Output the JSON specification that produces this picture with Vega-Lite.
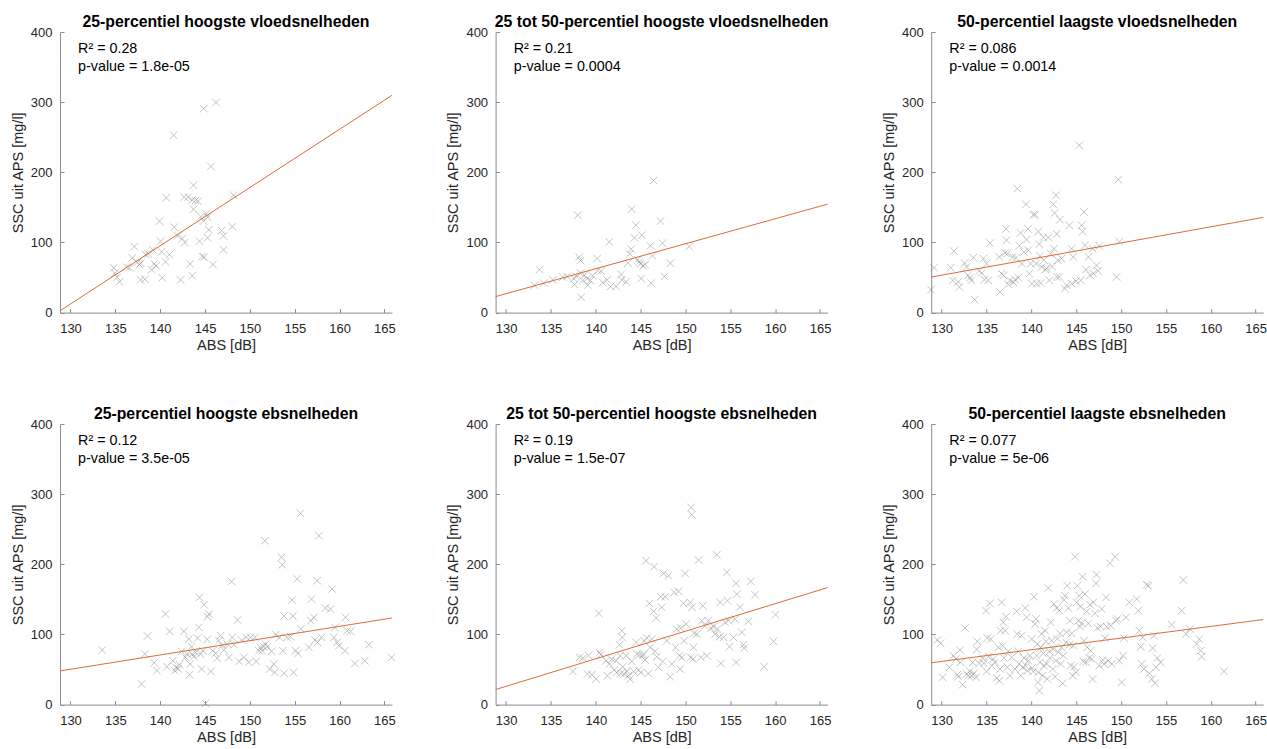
{
"$schema": "https://vega.github.io/schema/vega-lite/v6.json",
"padding": {"left": 10, "top": 13, "right": 0, "bottom": 0},
"background": "white",
"columns": 3,
"spacing": {"row": 111, "column": 103.6},
"bounds": "flush",
"datasets": {
"pts": [
{"panel":1,"abs":134.83,"ssc":63.8},{"panel":1,"abs":134.94,"ssc":56.2},{"panel":1,"abs":135.2,"ssc":50.5},{"panel":1,"abs":135.46,"ssc":43.9},{"panel":1,"abs":136.25,"ssc":64.8},{"panel":1,"abs":136.58,"ssc":63.8},{"panel":1,"abs":136.88,"ssc":78.1},{"panel":1,"abs":137.1,"ssc":94.2},{"panel":1,"abs":137.43,"ssc":71.4},{"panel":1,"abs":137.69,"ssc":68.6},{"panel":1,"abs":137.84,"ssc":70.4},{"panel":1,"abs":137.81,"ssc":46.7},{"panel":1,"abs":138.29,"ssc":47.6},{"panel":1,"abs":138.36,"ssc":82.8},{"panel":1,"abs":138.66,"ssc":83.7},{"panel":1,"abs":139.03,"ssc":61.0},{"panel":1,"abs":139.18,"ssc":89.5},{"panel":1,"abs":139.33,"ssc":69.5},{"panel":1,"abs":139.55,"ssc":66.6},{"panel":1,"abs":139.92,"ssc":130.3},{"panel":1,"abs":140.04,"ssc":101.8},{"panel":1,"abs":140.15,"ssc":86.6},{"panel":1,"abs":140.22,"ssc":49.5},{"panel":1,"abs":140.59,"ssc":72.3},{"panel":1,"abs":140.67,"ssc":163.6},{"panel":1,"abs":141.04,"ssc":82.8},{"panel":1,"abs":141.56,"ssc":121.8},{"panel":1,"abs":141.93,"ssc":109.4},{"panel":1,"abs":142.27,"ssc":46.7},{"panel":1,"abs":142.45,"ssc":105.6},{"panel":1,"abs":142.67,"ssc":164.6},{"panel":1,"abs":142.75,"ssc":99.9},{"panel":1,"abs":143.12,"ssc":164.6},{"panel":1,"abs":143.34,"ssc":69.5},{"panel":1,"abs":143.57,"ssc":52.8},{"panel":1,"abs":143.71,"ssc":181.6},{"panel":1,"abs":143.57,"ssc":160.7},{"panel":1,"abs":143.71,"ssc":147.4},{"panel":1,"abs":143.94,"ssc":159.8},{"panel":1,"abs":144.23,"ssc":158.8},{"panel":1,"abs":144.38,"ssc":101.8},{"panel":1,"abs":144.53,"ssc":137.0},{"panel":1,"abs":144.68,"ssc":80.0},{"panel":1,"abs":144.83,"ssc":130.3},{"panel":1,"abs":144.9,"ssc":79.0},{"panel":1,"abs":145.13,"ssc":140.8},{"panel":1,"abs":145.28,"ssc":136.0},{"panel":1,"abs":145.28,"ssc":106.6},{"panel":1,"abs":145.42,"ssc":118.0},{"panel":1,"abs":145.65,"ssc":208.3},{"panel":1,"abs":145.87,"ssc":68.6},{"panel":1,"abs":146.84,"ssc":117.0},{"panel":1,"abs":147.06,"ssc":109.4},{"panel":1,"abs":147.06,"ssc":89.5},{"panel":1,"abs":148.03,"ssc":122.7},{"panel":1,"abs":148.17,"ssc":167.4},{"panel":1,"abs":141.5,"ssc":252.7},{"panel":1,"abs":144.85,"ssc":290.8},{"panel":1,"abs":146.22,"ssc":299.4},
{"panel":2,"abs":133.16,"ssc":39.1},{"panel":2,"abs":133.72,"ssc":61.0},{"panel":2,"abs":134.2,"ssc":42.0},{"panel":2,"abs":135.2,"ssc":46.7},{"panel":2,"abs":136.32,"ssc":50.5},{"panel":2,"abs":136.8,"ssc":51.5},{"panel":2,"abs":137.55,"ssc":48.6},{"panel":2,"abs":137.62,"ssc":40.1},{"panel":2,"abs":137.81,"ssc":51.5},{"panel":2,"abs":137.99,"ssc":138.9},{"panel":2,"abs":138.14,"ssc":79.0},{"panel":2,"abs":138.29,"ssc":74.3},{"panel":2,"abs":138.29,"ssc":56.2},{"panel":2,"abs":138.36,"ssc":22.0},{"panel":2,"abs":138.55,"ssc":45.8},{"panel":2,"abs":138.73,"ssc":53.4},{"panel":2,"abs":139.03,"ssc":48.6},{"panel":2,"abs":139.11,"ssc":39.1},{"panel":2,"abs":139.4,"ssc":45.8},{"panel":2,"abs":139.66,"ssc":52.4},{"panel":2,"abs":140.15,"ssc":77.1},{"panel":2,"abs":140.22,"ssc":60.0},{"panel":2,"abs":140.59,"ssc":59.1},{"panel":2,"abs":140.78,"ssc":42.9},{"panel":2,"abs":141.26,"ssc":46.7},{"panel":2,"abs":141.49,"ssc":100.9},{"panel":2,"abs":141.63,"ssc":37.2},{"panel":2,"abs":142.27,"ssc":37.2},{"panel":2,"abs":142.82,"ssc":54.3},{"panel":2,"abs":142.9,"ssc":46.7},{"panel":2,"abs":143.38,"ssc":43.9},{"panel":2,"abs":143.57,"ssc":70.5},{"panel":2,"abs":143.79,"ssc":83.8},{"panel":2,"abs":143.94,"ssc":90.4},{"panel":2,"abs":144.01,"ssc":147.5},{"panel":2,"abs":144.31,"ssc":106.6},{"panel":2,"abs":144.46,"ssc":124.6},{"panel":2,"abs":144.68,"ssc":75.2},{"panel":2,"abs":144.83,"ssc":72.4},{"panel":2,"abs":144.98,"ssc":69.5},{"panel":2,"abs":145.05,"ssc":48.6},{"panel":2,"abs":145.13,"ssc":110.4},{"panel":2,"abs":145.28,"ssc":66.7},{"panel":2,"abs":145.5,"ssc":68.6},{"panel":2,"abs":146.09,"ssc":95.2},{"panel":2,"abs":146.17,"ssc":42.0},{"panel":2,"abs":146.32,"ssc":80.9},{"panel":2,"abs":146.43,"ssc":188.3},{"panel":2,"abs":147.21,"ssc":130.3},{"panel":2,"abs":147.43,"ssc":99.0},{"panel":2,"abs":147.65,"ssc":51.5},{"panel":2,"abs":148.32,"ssc":70.5},{"panel":2,"abs":150.4,"ssc":94.2},
{"panel":3,"abs":128.81,"ssc":32.7},{"panel":3,"abs":129.14,"ssc":64.1},{"panel":3,"abs":131.0,"ssc":64.1},{"panel":3,"abs":131.22,"ssc":46.0},{"panel":3,"abs":131.37,"ssc":87.8},{"panel":3,"abs":131.85,"ssc":43.7},{"panel":3,"abs":131.97,"ssc":36.5},{"panel":3,"abs":132.56,"ssc":70.7},{"panel":3,"abs":132.78,"ssc":65.0},{"panel":3,"abs":132.93,"ssc":53.1},{"panel":3,"abs":133.15,"ssc":49.8},{"panel":3,"abs":133.3,"ssc":46.0},{"panel":3,"abs":133.53,"ssc":78.3},{"panel":3,"abs":133.67,"ssc":18.5},{"panel":3,"abs":134.19,"ssc":59.3},{"panel":3,"abs":134.45,"ssc":56.5},{"panel":3,"abs":134.64,"ssc":76.9},{"panel":3,"abs":134.75,"ssc":47.0},{"panel":3,"abs":135.01,"ssc":69.8},{"panel":3,"abs":135.2,"ssc":46.0},{"panel":3,"abs":135.38,"ssc":99.3},{"panel":3,"abs":136.42,"ssc":79.3},{"panel":3,"abs":136.5,"ssc":29.4},{"panel":3,"abs":136.68,"ssc":55.5},{"panel":3,"abs":136.87,"ssc":53.1},{"panel":3,"abs":137.06,"ssc":85.0},{"panel":3,"abs":137.17,"ssc":119.2},{"panel":3,"abs":137.24,"ssc":103.1},{"panel":3,"abs":137.32,"ssc":84.1},{"panel":3,"abs":137.43,"ssc":40.3},{"panel":3,"abs":137.61,"ssc":46.0},{"panel":3,"abs":137.91,"ssc":79.3},{"panel":3,"abs":137.99,"ssc":43.2},{"panel":3,"abs":138.17,"ssc":47.0},{"panel":3,"abs":138.28,"ssc":78.3},{"panel":3,"abs":138.43,"ssc":176.7},{"panel":3,"abs":138.54,"ssc":49.8},{"panel":3,"abs":138.65,"ssc":95.5},{"panel":3,"abs":138.8,"ssc":113.5},{"panel":3,"abs":138.95,"ssc":69.8},{"panel":3,"abs":139.17,"ssc":86.4},{"panel":3,"abs":139.4,"ssc":154.4},{"panel":3,"abs":139.47,"ssc":104.0},{"panel":3,"abs":139.62,"ssc":119.2},{"panel":3,"abs":139.66,"ssc":88.8},{"panel":3,"abs":139.77,"ssc":55.5},{"panel":3,"abs":139.92,"ssc":69.8},{"panel":3,"abs":140.07,"ssc":41.3},{"panel":3,"abs":140.21,"ssc":139.6},{"panel":3,"abs":140.4,"ssc":139.6},{"panel":3,"abs":140.51,"ssc":69.8},{"panel":3,"abs":140.59,"ssc":41.3},{"panel":3,"abs":140.77,"ssc":115.5},{"panel":3,"abs":140.88,"ssc":97.6},{"panel":3,"abs":140.96,"ssc":80.3},{"panel":3,"abs":141.03,"ssc":42.2},{"panel":3,"abs":141.14,"ssc":65.0},{"panel":3,"abs":141.33,"ssc":107.1},{"panel":3,"abs":141.4,"ssc":74.6},{"panel":3,"abs":141.55,"ssc":61.3},{"panel":3,"abs":141.7,"ssc":62.7},{"panel":3,"abs":141.89,"ssc":107.1},{"panel":3,"abs":142.0,"ssc":46.0},{"panel":3,"abs":142.15,"ssc":84.1},{"panel":3,"abs":142.3,"ssc":65.9},{"panel":3,"abs":142.44,"ssc":154.4},{"panel":3,"abs":142.52,"ssc":91.2},{"panel":3,"abs":142.59,"ssc":142.0},{"panel":3,"abs":142.74,"ssc":167.2},{"panel":3,"abs":142.82,"ssc":112.2},{"panel":3,"abs":142.82,"ssc":50.8},{"panel":3,"abs":142.96,"ssc":74.6},{"panel":3,"abs":143.11,"ssc":50.8},{"panel":3,"abs":143.19,"ssc":132.5},{"panel":3,"abs":143.37,"ssc":76.9},{"panel":3,"abs":143.74,"ssc":34.2},{"panel":3,"abs":143.93,"ssc":39.0},{"panel":3,"abs":144.23,"ssc":124.4},{"panel":3,"abs":144.49,"ssc":91.2},{"panel":3,"abs":144.49,"ssc":41.3},{"panel":3,"abs":144.67,"ssc":79.3},{"panel":3,"abs":144.97,"ssc":45.1},{"panel":3,"abs":145.34,"ssc":238.5},{"panel":3,"abs":145.49,"ssc":46.0},{"panel":3,"abs":145.6,"ssc":124.4},{"panel":3,"abs":145.71,"ssc":115.5},{"panel":3,"abs":145.86,"ssc":143.4},{"panel":3,"abs":145.97,"ssc":95.9},{"panel":3,"abs":146.09,"ssc":61.3},{"panel":3,"abs":146.35,"ssc":79.3},{"panel":3,"abs":146.53,"ssc":53.1},{"panel":3,"abs":146.83,"ssc":91.2},{"panel":3,"abs":146.9,"ssc":55.5},{"panel":3,"abs":147.27,"ssc":67.4},{"panel":3,"abs":147.42,"ssc":59.3},{"panel":3,"abs":147.57,"ssc":95.0},{"panel":3,"abs":149.5,"ssc":50.8},{"panel":3,"abs":149.69,"ssc":189.6},{"panel":3,"abs":149.8,"ssc":101.2},
{"panel":4,"abs":133.53,"ssc":77.8},{"panel":4,"abs":137.92,"ssc":29.3},{"panel":4,"abs":138.29,"ssc":72.1},{"panel":4,"abs":138.59,"ssc":97.7},{"panel":4,"abs":139.33,"ssc":59.7},{"panel":4,"abs":139.63,"ssc":48.3},{"panel":4,"abs":140.59,"ssc":129.1},{"panel":4,"abs":140.74,"ssc":54.0},{"panel":4,"abs":141.04,"ssc":104.4},{"panel":4,"abs":141.41,"ssc":62.5},{"panel":4,"abs":141.63,"ssc":48.3},{"panel":4,"abs":141.78,"ssc":53.0},{"panel":4,"abs":142.0,"ssc":51.1},{"panel":4,"abs":142.15,"ssc":56.8},{"panel":4,"abs":142.38,"ssc":75.9},{"panel":4,"abs":142.64,"ssc":104.4},{"panel":4,"abs":142.82,"ssc":67.3},{"panel":4,"abs":143.01,"ssc":72.1},{"panel":4,"abs":143.19,"ssc":93.4},{"panel":4,"abs":143.27,"ssc":42.6},{"panel":4,"abs":143.34,"ssc":57.8},{"panel":4,"abs":143.49,"ssc":82.5},{"panel":4,"abs":143.57,"ssc":72.1},{"panel":4,"abs":143.75,"ssc":68.3},{"panel":4,"abs":143.94,"ssc":74.4},{"panel":4,"abs":144.16,"ssc":94.9},{"panel":4,"abs":144.31,"ssc":110.1},{"panel":4,"abs":144.38,"ssc":152.8},{"panel":4,"abs":144.49,"ssc":72.1},{"panel":4,"abs":144.61,"ssc":50.7},{"panel":4,"abs":144.76,"ssc":76.8},{"panel":4,"abs":144.9,"ssc":142.4},{"panel":4,"abs":145.05,"ssc":1.7},{"panel":4,"abs":145.24,"ssc":93.0},{"panel":4,"abs":145.28,"ssc":125.3},{"panel":4,"abs":145.42,"ssc":129.1},{"panel":4,"abs":145.65,"ssc":47.4},{"panel":4,"abs":145.87,"ssc":76.8},{"panel":4,"abs":146.17,"ssc":73.0},{"panel":4,"abs":146.35,"ssc":66.3},{"panel":4,"abs":146.54,"ssc":91.1},{"panel":4,"abs":146.72,"ssc":98.2},{"panel":4,"abs":146.91,"ssc":84.4},{"panel":4,"abs":147.1,"ssc":77.8},{"panel":4,"abs":147.47,"ssc":86.3},{"panel":4,"abs":147.65,"ssc":67.3},{"panel":4,"abs":147.95,"ssc":175.6},{"panel":4,"abs":148.03,"ssc":95.8},{"panel":4,"abs":148.25,"ssc":85.4},{"panel":4,"abs":148.62,"ssc":120.5},{"panel":4,"abs":148.77,"ssc":61.6},{"panel":4,"abs":149.07,"ssc":92.0},{"panel":4,"abs":149.33,"ssc":67.3},{"panel":4,"abs":149.59,"ssc":95.8},{"panel":4,"abs":149.88,"ssc":60.2},{"panel":4,"abs":150.07,"ssc":95.8},{"panel":4,"abs":150.55,"ssc":95.8},{"panel":4,"abs":150.7,"ssc":61.6},{"panel":4,"abs":151.0,"ssc":76.8},{"panel":4,"abs":151.18,"ssc":81.6},{"panel":4,"abs":151.37,"ssc":76.8},{"panel":4,"abs":151.52,"ssc":82.5},{"panel":4,"abs":151.67,"ssc":233.6},{"panel":4,"abs":151.74,"ssc":86.3},{"panel":4,"abs":151.96,"ssc":82.5},{"panel":4,"abs":152.19,"ssc":50.7},{"panel":4,"abs":152.41,"ssc":75.9},{"panel":4,"abs":152.67,"ssc":57.8},{"panel":4,"abs":152.78,"ssc":45.9},{"panel":4,"abs":152.86,"ssc":99.6},{"panel":4,"abs":153.3,"ssc":95.8},{"panel":4,"abs":153.52,"ssc":209.9},{"panel":4,"abs":153.6,"ssc":199.4},{"panel":4,"abs":153.67,"ssc":76.8},{"panel":4,"abs":153.79,"ssc":126.2},{"panel":4,"abs":153.82,"ssc":44.5},{"panel":4,"abs":154.16,"ssc":95.8},{"panel":4,"abs":154.53,"ssc":96.8},{"panel":4,"abs":154.71,"ssc":149.0},{"panel":4,"abs":154.79,"ssc":126.2},{"panel":4,"abs":154.86,"ssc":45.9},{"panel":4,"abs":155.09,"ssc":76.8},{"panel":4,"abs":155.27,"ssc":179.0},{"panel":4,"abs":155.38,"ssc":73.0},{"panel":4,"abs":155.64,"ssc":272.6},{"panel":4,"abs":155.68,"ssc":107.7},{"panel":4,"abs":156.57,"ssc":81.6},{"panel":4,"abs":156.8,"ssc":119.6},{"panel":4,"abs":156.87,"ssc":150.5},{"panel":4,"abs":157.13,"ssc":124.3},{"panel":4,"abs":157.24,"ssc":92.0},{"panel":4,"abs":157.5,"ssc":176.6},{"panel":4,"abs":157.54,"ssc":88.7},{"panel":4,"abs":157.69,"ssc":240.7},{"panel":4,"abs":157.98,"ssc":95.8},{"panel":4,"abs":158.43,"ssc":137.6},{"panel":4,"abs":158.99,"ssc":136.2},{"panel":4,"abs":159.17,"ssc":164.7},{"panel":4,"abs":159.36,"ssc":95.8},{"panel":4,"abs":159.47,"ssc":110.1},{"panel":4,"abs":159.73,"ssc":88.7},{"panel":4,"abs":159.92,"ssc":83.9},{"panel":4,"abs":160.59,"ssc":76.8},{"panel":4,"abs":160.66,"ssc":124.3},{"panel":4,"abs":160.85,"ssc":105.3},{"panel":4,"abs":161.22,"ssc":104.4},{"panel":4,"abs":161.7,"ssc":58.7},{"panel":4,"abs":162.8,"ssc":62.5},{"panel":4,"abs":163.26,"ssc":85.4},{"panel":4,"abs":165.79,"ssc":67.3},
{"panel":5,"abs":137.44,"ssc":47.3},{"panel":5,"abs":138.18,"ssc":67.3},{"panel":5,"abs":138.55,"ssc":66.3},{"panel":5,"abs":139.07,"ssc":43.5},{"panel":5,"abs":139.18,"ssc":70.1},{"panel":5,"abs":139.55,"ssc":42.6},{"panel":5,"abs":140.04,"ssc":36.4},{"panel":5,"abs":140.33,"ssc":130.0},{"panel":5,"abs":140.41,"ssc":74.4},{"panel":5,"abs":140.56,"ssc":71.1},{"panel":5,"abs":141.15,"ssc":62.5},{"panel":5,"abs":141.3,"ssc":41.1},{"panel":5,"abs":141.52,"ssc":57.8},{"panel":5,"abs":141.78,"ssc":64.9},{"panel":5,"abs":142.04,"ssc":49.2},{"panel":5,"abs":142.27,"ssc":62.5},{"panel":5,"abs":142.34,"ssc":45.9},{"panel":5,"abs":142.64,"ssc":85.3},{"panel":5,"abs":142.71,"ssc":69.7},{"panel":5,"abs":142.79,"ssc":44.5},{"panel":5,"abs":142.9,"ssc":105.3},{"panel":5,"abs":142.94,"ssc":95.8},{"panel":5,"abs":143.01,"ssc":54.0},{"panel":5,"abs":143.16,"ssc":43.5},{"panel":5,"abs":143.38,"ssc":69.7},{"panel":5,"abs":143.46,"ssc":47.3},{"panel":5,"abs":143.64,"ssc":41.1},{"panel":5,"abs":143.83,"ssc":36.4},{"panel":5,"abs":144.01,"ssc":61.6},{"panel":5,"abs":144.2,"ssc":47.3},{"panel":5,"abs":144.5,"ssc":88.7},{"panel":5,"abs":144.57,"ssc":72.0},{"panel":5,"abs":144.76,"ssc":49.2},{"panel":5,"abs":144.87,"ssc":71.1},{"panel":5,"abs":145.02,"ssc":45.9},{"panel":5,"abs":145.24,"ssc":69.7},{"panel":5,"abs":145.32,"ssc":72.0},{"panel":5,"abs":145.39,"ssc":91.0},{"panel":5,"abs":145.5,"ssc":63.5},{"panel":5,"abs":145.61,"ssc":205.1},{"panel":5,"abs":145.69,"ssc":94.8},{"panel":5,"abs":145.87,"ssc":44.5},{"panel":5,"abs":145.98,"ssc":144.3},{"panel":5,"abs":146.06,"ssc":81.5},{"panel":5,"abs":146.24,"ssc":93.4},{"panel":5,"abs":146.43,"ssc":132.9},{"panel":5,"abs":146.5,"ssc":196.5},{"panel":5,"abs":146.61,"ssc":75.8},{"panel":5,"abs":146.73,"ssc":123.4},{"panel":5,"abs":146.8,"ssc":68.2},{"panel":5,"abs":146.99,"ssc":53.0},{"panel":5,"abs":147.25,"ssc":153.8},{"panel":5,"abs":147.36,"ssc":138.6},{"panel":5,"abs":147.47,"ssc":61.6},{"panel":5,"abs":147.54,"ssc":187.0},{"panel":5,"abs":147.73,"ssc":153.8},{"panel":5,"abs":147.92,"ssc":91.0},{"panel":5,"abs":148.1,"ssc":183.7},{"panel":5,"abs":148.29,"ssc":39.7},{"panel":5,"abs":148.47,"ssc":57.8},{"panel":5,"abs":148.73,"ssc":160.0},{"panel":5,"abs":148.88,"ssc":81.5},{"panel":5,"abs":149.03,"ssc":107.7},{"panel":5,"abs":149.22,"ssc":161.4},{"panel":5,"abs":149.33,"ssc":69.7},{"panel":5,"abs":149.4,"ssc":50.6},{"panel":5,"abs":149.47,"ssc":109.1},{"panel":5,"abs":149.59,"ssc":67.3},{"panel":5,"abs":149.77,"ssc":144.3},{"panel":5,"abs":149.85,"ssc":91.0},{"panel":5,"abs":149.96,"ssc":187.0},{"panel":5,"abs":150.07,"ssc":114.8},{"panel":5,"abs":150.52,"ssc":145.7},{"panel":5,"abs":150.59,"ssc":67.3},{"panel":5,"abs":150.7,"ssc":138.6},{"panel":5,"abs":150.81,"ssc":64.9},{"panel":5,"abs":150.89,"ssc":81.5},{"panel":5,"abs":150.96,"ssc":101.5},{"panel":5,"abs":151.26,"ssc":100.5},{"panel":5,"abs":151.45,"ssc":206.0},{"panel":5,"abs":151.71,"ssc":67.3},{"panel":5,"abs":151.82,"ssc":119.6},{"panel":5,"abs":151.93,"ssc":140.9},{"panel":5,"abs":152.19,"ssc":112.4},{"panel":5,"abs":152.37,"ssc":69.7},{"panel":5,"abs":152.56,"ssc":119.6},{"panel":5,"abs":152.82,"ssc":109.1},{"panel":5,"abs":153.12,"ssc":111.0},{"panel":5,"abs":153.3,"ssc":100.5},{"panel":5,"abs":153.49,"ssc":213.6},{"panel":5,"abs":153.56,"ssc":107.7},{"panel":5,"abs":153.79,"ssc":96.7},{"panel":5,"abs":153.86,"ssc":145.7},{"panel":5,"abs":153.94,"ssc":58.7},{"panel":5,"abs":154.23,"ssc":95.8},{"panel":5,"abs":154.42,"ssc":117.2},{"panel":5,"abs":154.6,"ssc":188.5},{"panel":5,"abs":154.68,"ssc":148.1},{"panel":5,"abs":154.79,"ssc":119.6},{"panel":5,"abs":154.9,"ssc":82.5},{"panel":5,"abs":155.35,"ssc":95.8},{"panel":5,"abs":155.53,"ssc":121.9},{"panel":5,"abs":155.64,"ssc":172.8},{"panel":5,"abs":155.72,"ssc":157.6},{"panel":5,"abs":155.64,"ssc":60.1},{"panel":5,"abs":156.09,"ssc":138.6},{"panel":5,"abs":156.28,"ssc":102.9},{"panel":5,"abs":156.46,"ssc":85.3},{"panel":5,"abs":156.54,"ssc":80.6},{"panel":5,"abs":157.02,"ssc":118.6},{"panel":5,"abs":157.28,"ssc":175.6},{"panel":5,"abs":157.76,"ssc":156.6},{"panel":5,"abs":158.77,"ssc":54.0},{"panel":5,"abs":159.81,"ssc":90.1},{"panel":5,"abs":160.03,"ssc":128.1},{"panel":5,"abs":150.62,"ssc":281.1},{"panel":5,"abs":150.7,"ssc":270.7},
{"panel":6,"abs":129.51,"ssc":92.1},{"panel":6,"abs":129.88,"ssc":87.3},{"panel":6,"abs":130.11,"ssc":38.8},{"panel":6,"abs":130.85,"ssc":53.1},{"panel":6,"abs":131.3,"ssc":69.7},{"panel":6,"abs":131.59,"ssc":65.0},{"panel":6,"abs":131.74,"ssc":42.6},{"panel":6,"abs":131.85,"ssc":39.8},{"panel":6,"abs":132.04,"ssc":77.8},{"panel":6,"abs":132.11,"ssc":60.2},{"panel":6,"abs":132.34,"ssc":28.4},{"panel":6,"abs":132.6,"ssc":109.2},{"panel":6,"abs":132.78,"ssc":43.6},{"panel":6,"abs":132.97,"ssc":41.2},{"panel":6,"abs":133.15,"ssc":47.4},{"panel":6,"abs":133.34,"ssc":41.2},{"panel":6,"abs":133.45,"ssc":60.2},{"panel":6,"abs":133.6,"ssc":44.5},{"panel":6,"abs":133.82,"ssc":38.8},{"panel":6,"abs":133.9,"ssc":78.7},{"panel":6,"abs":133.97,"ssc":90.1},{"panel":6,"abs":134.19,"ssc":58.8},{"panel":6,"abs":134.57,"ssc":66.4},{"panel":6,"abs":134.71,"ssc":58.8},{"panel":6,"abs":134.94,"ssc":133.9},{"panel":6,"abs":135.01,"ssc":47.4},{"panel":6,"abs":135.09,"ssc":94.9},{"panel":6,"abs":135.23,"ssc":68.3},{"panel":6,"abs":135.38,"ssc":144.3},{"panel":6,"abs":135.46,"ssc":93.5},{"panel":6,"abs":135.57,"ssc":55.5},{"panel":6,"abs":135.76,"ssc":65.0},{"panel":6,"abs":135.94,"ssc":60.2},{"panel":6,"abs":136.13,"ssc":37.9},{"panel":6,"abs":136.31,"ssc":81.6},{"panel":6,"abs":136.43,"ssc":34.1},{"panel":6,"abs":136.5,"ssc":50.7},{"panel":6,"abs":136.57,"ssc":105.4},{"panel":6,"abs":136.68,"ssc":145.8},{"panel":6,"abs":136.8,"ssc":84.0},{"panel":6,"abs":136.87,"ssc":117.2},{"panel":6,"abs":136.94,"ssc":66.4},{"panel":6,"abs":137.06,"ssc":105.4},{"panel":6,"abs":137.17,"ssc":125.3},{"panel":6,"abs":137.32,"ssc":53.1},{"panel":6,"abs":137.43,"ssc":75.9},{"panel":6,"abs":137.61,"ssc":41.2},{"panel":6,"abs":137.8,"ssc":67.3},{"panel":6,"abs":138.17,"ssc":50.7},{"panel":6,"abs":138.36,"ssc":132.9},{"panel":6,"abs":138.43,"ssc":100.6},{"panel":6,"abs":138.54,"ssc":75.9},{"panel":6,"abs":138.65,"ssc":57.9},{"panel":6,"abs":138.8,"ssc":41.2},{"panel":6,"abs":138.91,"ssc":98.2},{"panel":6,"abs":139.03,"ssc":53.1},{"panel":6,"abs":139.17,"ssc":66.4},{"panel":6,"abs":139.32,"ssc":137.7},{"panel":6,"abs":139.4,"ssc":55.5},{"panel":6,"abs":139.47,"ssc":124.4},{"panel":6,"abs":139.55,"ssc":48.3},{"panel":6,"abs":139.66,"ssc":62.6},{"panel":6,"abs":139.84,"ssc":69.7},{"panel":6,"abs":140.03,"ssc":93.5},{"panel":6,"abs":140.07,"ssc":52.1},{"panel":6,"abs":140.21,"ssc":47.4},{"panel":6,"abs":140.29,"ssc":153.8},{"panel":6,"abs":140.4,"ssc":114.9},{"panel":6,"abs":140.51,"ssc":122.0},{"panel":6,"abs":140.59,"ssc":69.7},{"panel":6,"abs":140.66,"ssc":86.3},{"panel":6,"abs":140.74,"ssc":31.7},{"panel":6,"abs":140.77,"ssc":45.9},{"panel":6,"abs":140.88,"ssc":19.8},{"panel":6,"abs":140.96,"ssc":60.2},{"panel":6,"abs":141.03,"ssc":81.6},{"panel":6,"abs":141.14,"ssc":100.6},{"panel":6,"abs":141.25,"ssc":41.2},{"panel":6,"abs":141.33,"ssc":73.0},{"panel":6,"abs":141.4,"ssc":55.5},{"panel":6,"abs":141.52,"ssc":105.4},{"panel":6,"abs":141.63,"ssc":90.1},{"panel":6,"abs":141.7,"ssc":57.9},{"panel":6,"abs":141.77,"ssc":36.4},{"panel":6,"abs":141.89,"ssc":166.2},{"panel":6,"abs":142.0,"ssc":75.9},{"panel":6,"abs":142.07,"ssc":66.4},{"panel":6,"abs":142.15,"ssc":117.2},{"panel":6,"abs":142.26,"ssc":91.1},{"panel":6,"abs":142.37,"ssc":50.7},{"panel":6,"abs":142.44,"ssc":79.2},{"panel":6,"abs":142.52,"ssc":143.4},{"panel":6,"abs":142.63,"ssc":39.8},{"panel":6,"abs":142.74,"ssc":62.6},{"panel":6,"abs":142.82,"ssc":137.7},{"panel":6,"abs":142.89,"ssc":93.5},{"panel":6,"abs":143.0,"ssc":74.5},{"panel":6,"abs":143.11,"ssc":133.9},{"panel":6,"abs":143.19,"ssc":101.5},{"panel":6,"abs":143.26,"ssc":57.9},{"panel":6,"abs":143.37,"ssc":81.6},{"panel":6,"abs":143.48,"ssc":30.3},{"panel":6,"abs":143.56,"ssc":69.7},{"panel":6,"abs":143.63,"ssc":149.1},{"panel":6,"abs":143.74,"ssc":155.2},{"panel":6,"abs":143.86,"ssc":88.7},{"panel":6,"abs":143.93,"ssc":103.0},{"panel":6,"abs":144.0,"ssc":169.5},{"panel":6,"abs":144.12,"ssc":137.7},{"panel":6,"abs":144.23,"ssc":85.4},{"panel":6,"abs":144.3,"ssc":119.6},{"panel":6,"abs":144.38,"ssc":55.5},{"panel":6,"abs":144.49,"ssc":101.5},{"panel":6,"abs":144.6,"ssc":41.2},{"panel":6,"abs":144.67,"ssc":84.0},{"panel":6,"abs":144.75,"ssc":54.0},{"panel":6,"abs":144.86,"ssc":210.8},{"panel":6,"abs":144.97,"ssc":45.9},{"panel":6,"abs":145.05,"ssc":145.8},{"panel":6,"abs":145.12,"ssc":169.5},{"panel":6,"abs":145.23,"ssc":119.6},{"panel":6,"abs":145.34,"ssc":155.2},{"panel":6,"abs":145.42,"ssc":111.1},{"panel":6,"abs":145.49,"ssc":139.6},{"panel":6,"abs":145.6,"ssc":115.8},{"panel":6,"abs":145.71,"ssc":182.3},{"panel":6,"abs":145.79,"ssc":61.6},{"panel":6,"abs":145.86,"ssc":91.1},{"panel":6,"abs":145.97,"ssc":157.6},{"panel":6,"abs":146.09,"ssc":60.2},{"panel":6,"abs":146.16,"ssc":132.9},{"panel":6,"abs":146.23,"ssc":81.6},{"panel":6,"abs":146.35,"ssc":115.8},{"panel":6,"abs":146.46,"ssc":66.4},{"panel":6,"abs":146.53,"ssc":142.4},{"panel":6,"abs":146.61,"ssc":76.8},{"panel":6,"abs":146.72,"ssc":65.0},{"panel":6,"abs":146.83,"ssc":36.4},{"panel":6,"abs":146.9,"ssc":145.8},{"panel":6,"abs":147.09,"ssc":130.1},{"panel":6,"abs":147.2,"ssc":172.8},{"panel":6,"abs":147.27,"ssc":185.2},{"panel":6,"abs":147.35,"ssc":109.2},{"panel":6,"abs":147.57,"ssc":55.5},{"panel":6,"abs":147.72,"ssc":111.1},{"panel":6,"abs":147.83,"ssc":136.2},{"panel":6,"abs":147.94,"ssc":63.5},{"panel":6,"abs":148.09,"ssc":57.9},{"panel":6,"abs":148.2,"ssc":94.9},{"panel":6,"abs":148.32,"ssc":152.9},{"panel":6,"abs":148.39,"ssc":111.1},{"panel":6,"abs":148.57,"ssc":62.6},{"panel":6,"abs":148.76,"ssc":201.3},{"panel":6,"abs":148.84,"ssc":112.5},{"panel":6,"abs":148.95,"ssc":57.9},{"panel":6,"abs":149.32,"ssc":210.8},{"panel":6,"abs":149.43,"ssc":119.6},{"panel":6,"abs":149.58,"ssc":122.0},{"panel":6,"abs":149.8,"ssc":62.6},{"panel":6,"abs":150.06,"ssc":31.7},{"panel":6,"abs":150.24,"ssc":69.7},{"panel":6,"abs":150.32,"ssc":94.9},{"panel":6,"abs":150.54,"ssc":124.4},{"panel":6,"abs":150.92,"ssc":145.8},{"panel":6,"abs":151.73,"ssc":150.5},{"panel":6,"abs":151.92,"ssc":133.9},{"panel":6,"abs":152.03,"ssc":105.4},{"panel":6,"abs":152.18,"ssc":82.6},{"panel":6,"abs":152.29,"ssc":57.9},{"panel":6,"abs":152.4,"ssc":95.9},{"panel":6,"abs":152.55,"ssc":50.7},{"panel":6,"abs":152.85,"ssc":170.9},{"panel":6,"abs":153.04,"ssc":169.5},{"panel":6,"abs":153.15,"ssc":44.5},{"panel":6,"abs":153.41,"ssc":36.4},{"panel":6,"abs":153.52,"ssc":80.6},{"panel":6,"abs":153.67,"ssc":98.2},{"panel":6,"abs":153.78,"ssc":30.3},{"panel":6,"abs":153.89,"ssc":53.1},{"panel":6,"abs":154.04,"ssc":66.4},{"panel":6,"abs":154.41,"ssc":60.2},{"panel":6,"abs":155.64,"ssc":113.9},{"panel":6,"abs":156.75,"ssc":133.9},{"panel":6,"abs":156.94,"ssc":177.6},{"panel":6,"abs":157.23,"ssc":100.6},{"panel":6,"abs":157.68,"ssc":107.7},{"panel":6,"abs":158.42,"ssc":86.3},{"panel":6,"abs":158.72,"ssc":93.5},{"panel":6,"abs":158.87,"ssc":76.8},{"panel":6,"abs":158.98,"ssc":68.3},{"panel":6,"abs":161.47,"ssc":47.4}
],
"fit": [
{"panel":1,"abs":128.83,"ssc":2.6},{"panel":1,"abs":165.84,"ssc":309.8},
{"panel":2,"abs":128.83,"ssc":22.8},{"panel":2,"abs":165.84,"ssc":154.6},
{"panel":3,"abs":128.83,"ssc":50.7},{"panel":3,"abs":165.84,"ssc":135.7},
{"panel":4,"abs":128.83,"ssc":48.0},{"panel":4,"abs":165.84,"ssc":123.5},
{"panel":5,"abs":128.83,"ssc":21.5},{"panel":5,"abs":165.84,"ssc":166.8},
{"panel":6,"abs":128.83,"ssc":59.6},{"panel":6,"abs":165.84,"ssc":121.2}
],
"ann": [
{"panel":1,"label":["R² = 0.28","p-value = 1.8e-05"]},
{"panel":2,"label":["R² = 0.21","p-value = 0.0004"]},
{"panel":3,"label":["R² = 0.086","p-value = 0.0014"]},
{"panel":4,"label":["R² = 0.12","p-value = 3.5e-05"]},
{"panel":5,"label":["R² = 0.19","p-value = 1.5e-07"]},
{"panel":6,"label":["R² = 0.077","p-value = 5e-06"]}
]
},
"concat": [
{"title": "25-percentiel hoogste vloedsnelheden", "width": 332, "height": 280.6, "layer": [
 {"data": {"name": "pts"}, "transform": [{"filter": "datum.panel == 1"}], "mark": {"type": "point"}, "encoding": {"x": {"field": "abs", "type": "quantitative", "scale": {"domain": [128.83, 165.84], "nice": false, "zero": false}, "axis": {"title": "ABS [dB]", "values": [130,135,140,145,150,155,160,165]}}, "y": {"field": "ssc", "type": "quantitative", "scale": {"domain": [0, 400], "nice": false}, "axis": {"title": "SSC uit APS [mg/l]", "values": [0,50,100,150,200,250,300,350,400]}}}},
 {"data": {"name": "fit"}, "transform": [{"filter": "datum.panel == 1"}], "mark": {"type": "line"}, "encoding": {"x": {"field": "abs", "type": "quantitative"}, "y": {"field": "ssc", "type": "quantitative"}}},
 {"data": {"name": "ann"}, "transform": [{"filter": "datum.panel == 1"}], "mark": {"type": "text"}, "encoding": {"x": {"datum": 130.85, "type": "quantitative"}, "y": {"datum": 370, "type": "quantitative"}, "text": {"field": "label"}}}
]},
{"title": "25 tot 50-percentiel hoogste vloedsnelheden", "width": 332, "height": 280.6, "layer": [
 {"data": {"name": "pts"}, "transform": [{"filter": "datum.panel == 2"}], "mark": {"type": "point"}, "encoding": {"x": {"field": "abs", "type": "quantitative", "scale": {"domain": [128.83, 165.84], "nice": false, "zero": false}, "axis": {"title": "ABS [dB]", "values": [130,135,140,145,150,155,160,165]}}, "y": {"field": "ssc", "type": "quantitative", "scale": {"domain": [0, 400], "nice": false}, "axis": {"title": "SSC uit APS [mg/l]", "values": [0,50,100,150,200,250,300,350,400]}}}},
 {"data": {"name": "fit"}, "transform": [{"filter": "datum.panel == 2"}], "mark": {"type": "line"}, "encoding": {"x": {"field": "abs", "type": "quantitative"}, "y": {"field": "ssc", "type": "quantitative"}}},
 {"data": {"name": "ann"}, "transform": [{"filter": "datum.panel == 2"}], "mark": {"type": "text"}, "encoding": {"x": {"datum": 130.85, "type": "quantitative"}, "y": {"datum": 370, "type": "quantitative"}, "text": {"field": "label"}}}
]},
{"title": "50-percentiel laagste vloedsnelheden", "width": 332, "height": 280.6, "layer": [
 {"data": {"name": "pts"}, "transform": [{"filter": "datum.panel == 3"}], "mark": {"type": "point"}, "encoding": {"x": {"field": "abs", "type": "quantitative", "scale": {"domain": [128.83, 165.84], "nice": false, "zero": false}, "axis": {"title": "ABS [dB]", "values": [130,135,140,145,150,155,160,165]}}, "y": {"field": "ssc", "type": "quantitative", "scale": {"domain": [0, 400], "nice": false}, "axis": {"title": "SSC uit APS [mg/l]", "values": [0,50,100,150,200,250,300,350,400]}}}},
 {"data": {"name": "fit"}, "transform": [{"filter": "datum.panel == 3"}], "mark": {"type": "line"}, "encoding": {"x": {"field": "abs", "type": "quantitative"}, "y": {"field": "ssc", "type": "quantitative"}}},
 {"data": {"name": "ann"}, "transform": [{"filter": "datum.panel == 3"}], "mark": {"type": "text"}, "encoding": {"x": {"datum": 130.85, "type": "quantitative"}, "y": {"datum": 370, "type": "quantitative"}, "text": {"field": "label"}}}
]},
{"title": "25-percentiel hoogste ebsnelheden", "width": 332, "height": 280.6, "layer": [
 {"data": {"name": "pts"}, "transform": [{"filter": "datum.panel == 4"}], "mark": {"type": "point"}, "encoding": {"x": {"field": "abs", "type": "quantitative", "scale": {"domain": [128.83, 165.84], "nice": false, "zero": false}, "axis": {"title": "ABS [dB]", "values": [130,135,140,145,150,155,160,165]}}, "y": {"field": "ssc", "type": "quantitative", "scale": {"domain": [0, 400], "nice": false}, "axis": {"title": "SSC uit APS [mg/l]", "values": [0,50,100,150,200,250,300,350,400]}}}},
 {"data": {"name": "fit"}, "transform": [{"filter": "datum.panel == 4"}], "mark": {"type": "line"}, "encoding": {"x": {"field": "abs", "type": "quantitative"}, "y": {"field": "ssc", "type": "quantitative"}}},
 {"data": {"name": "ann"}, "transform": [{"filter": "datum.panel == 4"}], "mark": {"type": "text"}, "encoding": {"x": {"datum": 130.85, "type": "quantitative"}, "y": {"datum": 370, "type": "quantitative"}, "text": {"field": "label"}}}
]},
{"title": "25 tot 50-percentiel hoogste ebsnelheden", "width": 332, "height": 280.6, "layer": [
 {"data": {"name": "pts"}, "transform": [{"filter": "datum.panel == 5"}], "mark": {"type": "point"}, "encoding": {"x": {"field": "abs", "type": "quantitative", "scale": {"domain": [128.83, 165.84], "nice": false, "zero": false}, "axis": {"title": "ABS [dB]", "values": [130,135,140,145,150,155,160,165]}}, "y": {"field": "ssc", "type": "quantitative", "scale": {"domain": [0, 400], "nice": false}, "axis": {"title": "SSC uit APS [mg/l]", "values": [0,50,100,150,200,250,300,350,400]}}}},
 {"data": {"name": "fit"}, "transform": [{"filter": "datum.panel == 5"}], "mark": {"type": "line"}, "encoding": {"x": {"field": "abs", "type": "quantitative"}, "y": {"field": "ssc", "type": "quantitative"}}},
 {"data": {"name": "ann"}, "transform": [{"filter": "datum.panel == 5"}], "mark": {"type": "text"}, "encoding": {"x": {"datum": 130.85, "type": "quantitative"}, "y": {"datum": 370, "type": "quantitative"}, "text": {"field": "label"}}}
]},
{"title": "50-percentiel laagste ebsnelheden", "width": 332, "height": 280.6, "layer": [
 {"data": {"name": "pts"}, "transform": [{"filter": "datum.panel == 6"}], "mark": {"type": "point"}, "encoding": {"x": {"field": "abs", "type": "quantitative", "scale": {"domain": [128.83, 165.84], "nice": false, "zero": false}, "axis": {"title": "ABS [dB]", "values": [130,135,140,145,150,155,160,165]}}, "y": {"field": "ssc", "type": "quantitative", "scale": {"domain": [0, 400], "nice": false}, "axis": {"title": "SSC uit APS [mg/l]", "values": [0,50,100,150,200,250,300,350,400]}}}},
 {"data": {"name": "fit"}, "transform": [{"filter": "datum.panel == 6"}], "mark": {"type": "line"}, "encoding": {"x": {"field": "abs", "type": "quantitative"}, "y": {"field": "ssc", "type": "quantitative"}}},
 {"data": {"name": "ann"}, "transform": [{"filter": "datum.panel == 6"}], "mark": {"type": "text"}, "encoding": {"x": {"datum": 130.85, "type": "quantitative"}, "y": {"datum": 370, "type": "quantitative"}, "text": {"field": "label"}}}
]}
],
"config": {
 "view": {"stroke": null},
 "font": "Liberation Sans",
 "title": {"font": "Liberation Sans", "fontSize": 15.8, "fontWeight": "bold", "color": "#000000", "anchor": "middle", "frame": "group", "offset": -4.3},
 "axis": {"grid": false, "domainColor": "#8c8c8c", "tickColor": "#8c8c8c", "tickSize": -4, "labelFont": "Liberation Sans", "labelFontSize": 13, "labelColor": "#262626", "labelFlush": false, "labelOverlap": false, "titleFont": "Liberation Sans", "titleFontSize": 14.5, "titleFontWeight": "normal", "titleColor": "#262626"},
 "axisX": {"labelPadding": 14, "titlePadding": 3},
 "axisY": {"labelPadding": 12, "titlePadding": 5},
 "point": {"shape": "M-1,-1L1,1M-1,1L1,-1", "filled": false, "color": "#808080", "stroke": "#808080", "strokeOpacity": 0.65, "strokeWidth": 1, "size": 56},
 "line": {"color": "#E0693A", "stroke": "#E0693A", "strokeWidth": 1},
 "text": {"font": "Liberation Sans", "fontSize": 14.3, "color": "#000000", "align": "left", "baseline": "alphabetic", "lineHeight": 17.5}
}
}
